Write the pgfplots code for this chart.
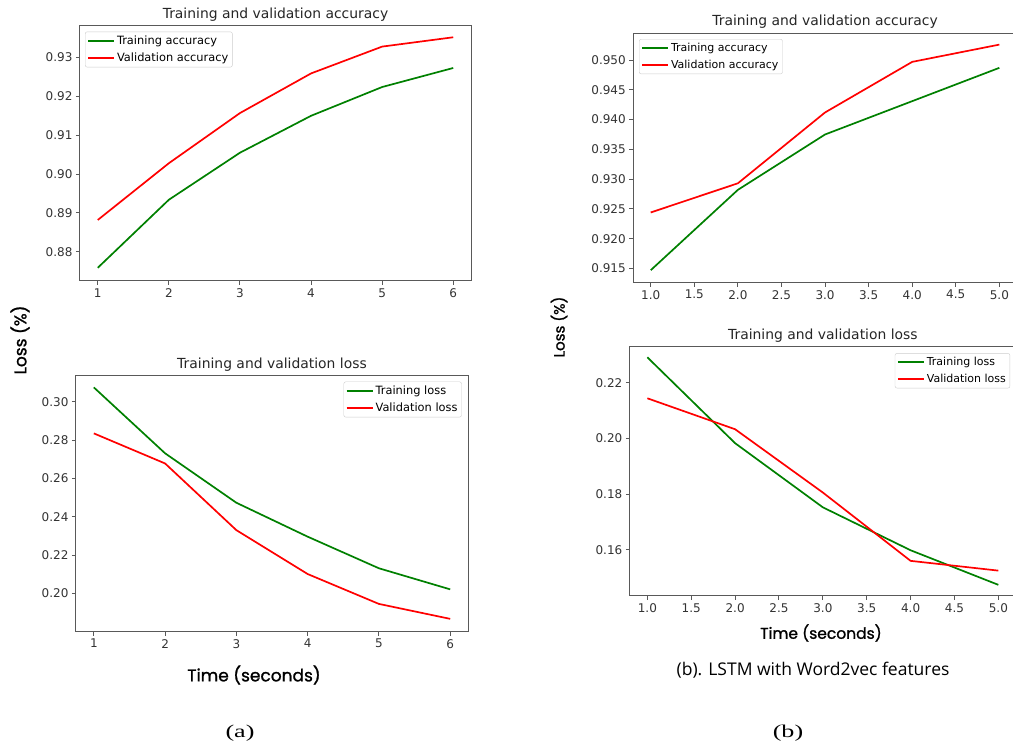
\documentclass[border=0pt]{standalone}
\usepackage{fontspec}
\setmainfont{DejaVu Sans}
\newfontfamily\popp{Poppins}[FakeBold=1.2]
\newfontfamily\opens{Open Sans}
\newfontfamily\tnr{Liberation Serif}
\usepackage{pgfplots}
\pgfplotsset{compat=1.18}
\definecolor{mplgreen}{RGB}{0,128,0}
\definecolor{mplred}{RGB}{255,0,0}
\pgfplotsset{mplstyle/.style={
  scale only axis,
  axis line style={black!65, line width=1pt},
  tick pos=left, tick align=outside,
  major tick length=4pt,
  tick style={black!65, line width=1pt},
  ticklabel style={font=\fontsize{12}{14}\selectfont, text=black!80},
  /pgf/number format/assume math mode=true,
  title style={font=\fontsize{13.9}{16}\selectfont, text=black!85, yshift=-5pt},
  legend cell align=left,
  legend style={draw=black!20, rounded corners=2pt, fill=white,
    font=\fontsize{11.4}{13}\selectfont, inner sep=2pt, row sep=3pt},
  legend image code/.code={\draw[##1, line width=1.8pt] (0pt,0pt) -- (26pt,0pt);},
  every axis plot/.append style={line width=1.7pt},
}}
\begin{document}
\begin{tikzpicture}
\useasboundingbox (0,0) rectangle (1013pt,-749pt);
% top left
\begin{axis}[mplstyle, at={(80pt,-26pt)}, anchor=north west,
  width=391pt, height=255pt,
  xmin=0.75, xmax=6.25, ymin=0.8725, ymax=0.9381,
  xtick={1,2,3,4,5,6},
  ytick={0.88,0.89,0.90,0.91,0.92,0.93},
  yticklabel style={/pgf/number format/.cd, fixed, fixed zerofill, precision=2},
  title={Training and validation accuracy},
  legend style={at={(axis description cs:0.0128,0.978)}, anchor=north west}]
\addplot[mplgreen] coordinates {(1,0.8759) (2,0.8934) (3,0.9055) (4,0.9150) (5,0.9224) (6,0.9273)};
\addlegendentry{Training accuracy}
\addplot[mplred] coordinates {(1,0.8882) (2,0.9028) (3,0.9157) (4,0.9259) (5,0.9328) (6,0.9352)};
\addlegendentry{Validation accuracy}
\end{axis}
% bottom left
\begin{axis}[mplstyle, at={(76pt,-375.7pt)}, anchor=north west,
  width=392pt, height=256pt,
  xmin=0.75, xmax=6.25, ymin=0.18, ymax=0.3136,
  xtick={1,2,3,4,5,6},
  ytick={0.20,0.22,0.24,0.26,0.28,0.30},
  yticklabel style={/pgf/number format/.cd, fixed, fixed zerofill, precision=2},
  title={Training and validation loss},
  legend style={at={(axis description cs:0.984,0.977)}, anchor=north east}]
\addplot[mplgreen] coordinates {(1,0.3075) (2,0.2731) (3,0.2473) (4,0.2296) (5,0.2131) (6,0.2021)};
\addlegendentry{Training loss}
\addplot[mplred] coordinates {(1,0.2835) (2,0.2678) (3,0.2330) (4,0.2101) (5,0.1945) (6,0.1867)};
\addlegendentry{Validation loss}
\end{axis}
% top right
\begin{axis}[mplstyle, at={(633.3pt,-33.3pt)}, anchor=north west,
  width=383.5pt, height=249.4pt,
  xmin=0.8, xmax=5.2, ymin=0.9126, ymax=0.9545,
  xtick={1,1.5,2,2.5,3,3.5,4,4.5,5},
  xticklabel style={/pgf/number format/.cd, fixed, fixed zerofill, precision=1},
  ytick={0.915,0.920,0.925,0.930,0.935,0.940,0.945,0.950},
  yticklabel style={/pgf/number format/.cd, fixed, fixed zerofill, precision=3},
  title={Training and validation accuracy},
  legend style={at={(axis description cs:0.0149,0.977)}, anchor=north west, font=\fontsize{11}{13}\selectfont}]
\addplot[mplgreen] coordinates {(1,0.9147) (2,0.9282) (3,0.9375) (4,0.9431) (5,0.9487)};
\addlegendentry{Training accuracy}
\addplot[mplred] coordinates {(1,0.9244) (2,0.9293) (3,0.9412) (4,0.9497) (5,0.9526)};
\addlegendentry{Validation accuracy}
\end{axis}
% bottom right
\begin{axis}[mplstyle, at={(629.8pt,-346.7pt)}, anchor=north west,
  width=386.1pt, height=249.3pt,
  xmin=0.8, xmax=5.2, ymin=0.1435, ymax=0.2329,
  xtick={1,1.5,2,2.5,3,3.5,4,4.5,5},
  xticklabel style={/pgf/number format/.cd, fixed, fixed zerofill, precision=1},
  ytick={0.16,0.18,0.20,0.22},
  yticklabel style={/pgf/number format/.cd, fixed, fixed zerofill, precision=2},
  title={Training and validation loss},
  legend style={at={(axis description cs:0.985,0.974)}, anchor=north east, font=\fontsize{11}{13}\selectfont}]
\addplot[mplgreen] coordinates {(1,0.2291) (2,0.1983) (3,0.1753) (4,0.1599) (5,0.1475)};
\addlegendentry{Training loss}
\addplot[mplred] coordinates {(1,0.2144) (2,0.2033) (3,0.1806) (4,0.1561) (5,0.1526)};
\addlegendentry{Validation loss}
\end{axis}
% figure-level labels
\node[rotate=90, font=\popp\fontsize{17}{20}\selectfont] at (20pt,-340pt) {Loss (\%)};
\node[rotate=90, font=\popp\fontsize{15}{18}\selectfont] at (559pt,-327pt) {Loss (\%)};
\node[font=\popp\fontsize{17}{20}\selectfont] at (254pt,-675pt) {Time (seconds)};
\node[font=\popp\fontsize{15.5}{18}\selectfont] at (821pt,-633pt) {Time (seconds)};
\node[font=\opens\fontsize{17.5}{20}\selectfont] at (813pt,-670pt) {(b). LSTM with Word2vec features};
\node[font=\tnr\fontsize{18}{22}\selectfont, xscale=1.45] at (240pt,-733pt) {(a)};
\node[font=\tnr\fontsize{18}{22}\selectfont, xscale=1.45] at (788pt,-733pt) {(b)};
\end{tikzpicture}
\end{document}
